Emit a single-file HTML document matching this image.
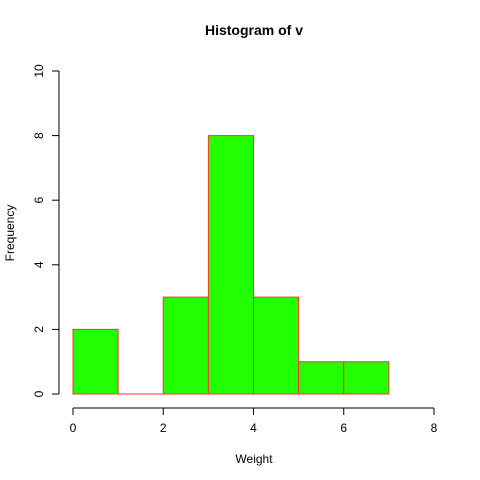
<!DOCTYPE html>
<html><head><meta charset="utf-8"><style>body{margin:0;background:#fff}svg{display:block}text{font-family:"Liberation Sans",Arial,sans-serif}</style></head>
<body>
<svg id="chart" width="480" height="480">
<text x="254" y="35" text-anchor="middle" font-weight="bold" font-size="14">Histogram of v</text>
<text x="254" y="463" text-anchor="middle" font-size="12">Weight</text>
<text transform="translate(14,233) rotate(-90)" text-anchor="middle" font-size="12">Frequency</text>
<g id="bars"></g><g id="xaxis"></g><g id="yaxis"></g>
</svg>
<script>
const binStarts=[0,1,2,3,4,5,6];
const counts=[2,0,3,8,3,1,1];
const xTicks=[0,2,4,6,8];
const yTicks=[0,2,4,6,8,10];
const NS="http://www.w3.org/2000/svg";
function xs(v){return 73+v*(434-73)/8;}
function ys(v){return 394-v*(394-71)/10;}
function mk(t,a,p){const e=document.createElementNS(NS,t);for(const k in a)e.setAttribute(k,a[k]);p.appendChild(e);return e;}
const bars=document.getElementById('bars');
binStarts.forEach((b,i)=>{
 const x0=xs(b),x1=xs(b+1),y0=ys(0),y1=ys(counts[i]);
 const r=mk('path',{d:`M${x0},${y0}L${x0},${y1}L${x1},${y1}L${x1},${y0}Z`,fill:'#22ff00',stroke:'#ff3030','stroke-width':1},bars);
 
 
});
const xa=document.getElementById('xaxis');
const xl=mk('line',{x1:xs(xTicks[0]),x2:xs(xTicks[xTicks.length-1]),y1:408,y2:408,stroke:'#000'},xa);


xTicks.forEach(t=>{
 mk('line',{x1:xs(t),x2:xs(t),y1:408,y2:415,stroke:'#000'},xa);
 const tx=mk('text',{x:xs(t),y:432,'text-anchor':'middle','font-size':12},xa);tx.textContent=t;
 
 
});
const ya=document.getElementById('yaxis');
const yl=mk('line',{x1:59,x2:59,y1:ys(yTicks[0]),y2:ys(yTicks[yTicks.length-1]),stroke:'#000'},ya);


yTicks.forEach(t=>{
 mk('line',{x1:52,x2:59,y1:ys(t),y2:ys(t),stroke:'#000'},ya);
 const tx=mk('text',{transform:`translate(43,${ys(t)}) rotate(-90)`,'text-anchor':'middle','font-size':12},ya);tx.textContent=t;
 
 
});
</script>
</body></html>
